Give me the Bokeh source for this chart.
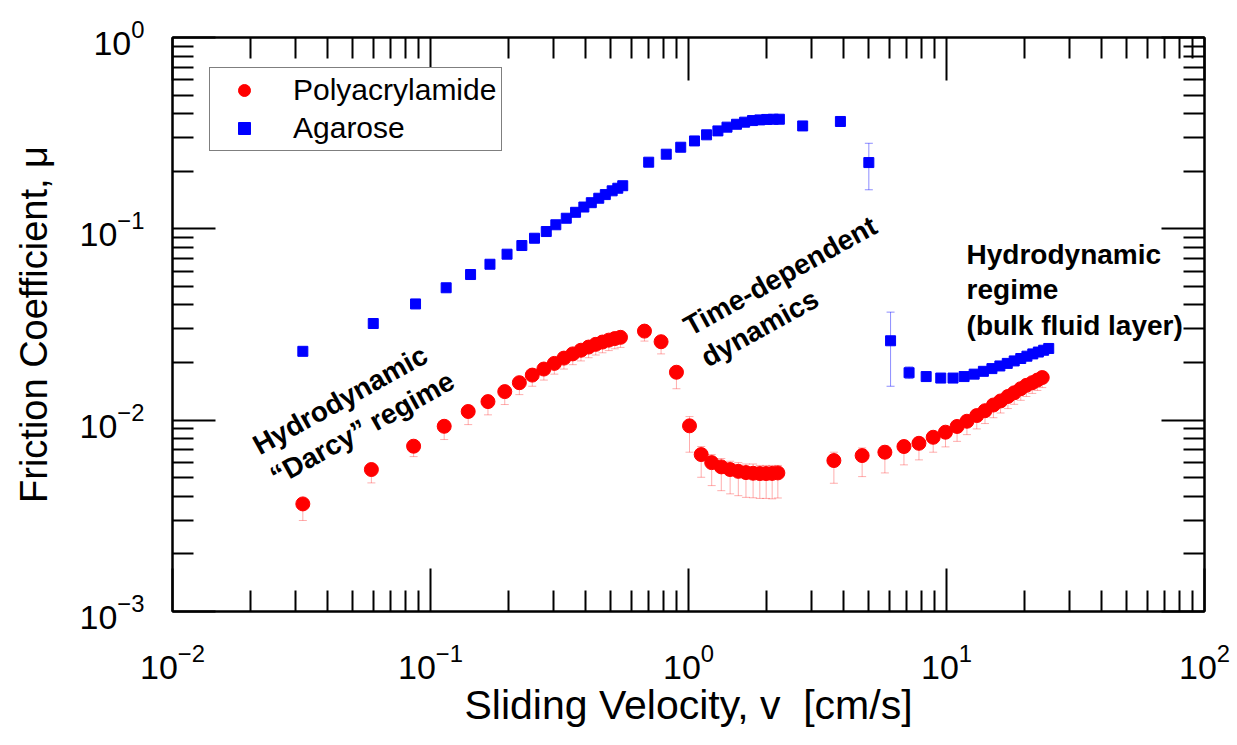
import math
from bokeh.plotting import figure
from bokeh.models import (ColumnDataSource, Whisker, TeeHead, LogAxis, FixedTicker,
                          Legend, LegendItem, Label, Range1d)
from bokeh.embed import file_html
from bokeh.resources import INLINE

# ---------------- data ----------------
red_v = [0.032, 0.059, 0.086, 0.113, 0.140, 0.167, 0.194, 0.221, 0.248, 0.275,
         0.302, 0.329, 0.356, 0.383, 0.410, 0.437, 0.464, 0.491, 0.518, 0.545,
         0.675, 0.783, 0.898, 1.009, 1.12, 1.23, 1.34, 1.45, 1.56, 1.67,
         1.78, 1.89, 2.00, 2.11, 2.22,
         3.66, 4.71, 5.77, 6.84, 7.82, 8.88, 9.91, 10.99, 12.0, 13.1,
         14.1, 15.2, 16.2, 17.3, 18.3, 19.4, 20.4, 21.5, 22.5, 23.5]
red_mu = [0.00365, 0.00552, 0.00731, 0.00929, 0.0111, 0.0125, 0.0141, 0.0157, 0.0172, 0.0185,
          0.0198, 0.0211, 0.0222, 0.0232, 0.0241, 0.0249, 0.0256, 0.0262, 0.0267, 0.0271,
          0.0292, 0.0257, 0.0178, 0.00934, 0.00661, 0.00600, 0.00570, 0.00552, 0.00540, 0.00532,
          0.00528, 0.00526, 0.00526, 0.00527, 0.00530,
          0.00615, 0.00653, 0.00680, 0.00728, 0.00757, 0.00814, 0.00865, 0.00927, 0.00987, 0.01057,
          0.0112, 0.0120, 0.0126, 0.0133, 0.0139, 0.0146, 0.0152, 0.0157, 0.0162, 0.0167]
red_hi = [0.0038, 0.0057, 0.0076, 0.0097, 0.0115, 0.0130, 0.0147, 0.0163, 0.0179, 0.0192,
          0.0206, 0.0219, 0.0231, 0.0241, 0.0251, 0.0259, 0.0266, 0.0272, 0.0277, 0.0282,
          0.0304, 0.0267, 0.0191, 0.01044, 0.00728, 0.00661, 0.00630, 0.00610, 0.00600, 0.00590,
          0.00590, 0.00580, 0.00580, 0.00580, 0.00580,
          0.00680, 0.00716, 0.00735, 0.00760, 0.00790, 0.00850, 0.00900, 0.00960, 0.0102, 0.0110,
          0.0116, 0.0125, 0.0131, 0.0138, 0.0144, 0.0152, 0.0158, 0.0163, 0.0168, 0.0173]
red_lo = [0.00299, 0.0047, 0.00645, 0.00792, 0.00948, 0.01066, 0.01207, 0.0136, 0.01504, 0.0162,
          0.0174, 0.0185, 0.0195, 0.0204, 0.0212, 0.0219, 0.0225, 0.0231, 0.0236, 0.0240,
          0.0259, 0.0222, 0.0146, 0.00680, 0.00503, 0.00455, 0.00428, 0.00412, 0.00403, 0.00395,
          0.00393, 0.00390, 0.00390, 0.00388, 0.00392,
          0.00468, 0.00507, 0.00530, 0.00584, 0.00620, 0.00680, 0.00725, 0.00775, 0.0084, 0.0090,
          0.0096, 0.0103, 0.0109, 0.0115, 0.0121, 0.0127, 0.0133, 0.0138, 0.0143, 0.0148]

blue_v = [0.032, 0.060, 0.0875, 0.115, 0.143, 0.170, 0.198, 0.226, 0.253, 0.281,
          0.306, 0.336, 0.365, 0.393, 0.420, 0.449, 0.476, 0.506, 0.532, 0.556,
          0.701, 0.82, 0.933, 1.055, 1.175, 1.30, 1.41, 1.535, 1.65, 1.77,
          1.89, 2.01, 2.13, 2.25,
          2.77, 3.88, 5.0,
          6.07, 7.16, 8.34, 9.5, 10.6, 11.7, 12.8, 13.9, 15.0,
          16.1, 17.2, 18.3, 19.4, 20.5, 21.6, 22.7, 23.8, 24.9]
blue_mu = [0.0229, 0.032, 0.0405, 0.0492, 0.0577, 0.0653, 0.0737, 0.0818, 0.0893, 0.0968,
           0.105, 0.1136, 0.122, 0.130, 0.137, 0.1445, 0.151, 0.158, 0.163, 0.168,
           0.223, 0.2455, 0.267, 0.288, 0.310, 0.325, 0.340, 0.352, 0.361, 0.368,
           0.371, 0.373, 0.374, 0.374,
           0.345, 0.364, 0.222,
           0.026, 0.0177, 0.0169, 0.0166, 0.0166, 0.0169, 0.0174, 0.0180, 0.0186,
           0.0192, 0.0198, 0.0204, 0.0210, 0.0216, 0.0222, 0.0227, 0.0232, 0.0237]
blue_hi = [0.0229, 0.032, 0.0405, 0.0492, 0.0577, 0.0653, 0.0737, 0.0818, 0.0893, 0.0968,
           0.105, 0.1136, 0.122, 0.130, 0.137, 0.1445, 0.151, 0.158, 0.163, 0.168,
           0.223, 0.2455, 0.267, 0.288, 0.310, 0.325, 0.340, 0.352, 0.361, 0.368,
           0.371, 0.373, 0.374, 0.374,
           0.345, 0.364, 0.280,
           0.0367, 0.0190, 0.0178, 0.0172, 0.0166, 0.0169, 0.0174, 0.0180, 0.0186,
           0.0192, 0.0198, 0.0204, 0.0210, 0.0216, 0.0222, 0.0227, 0.0232, 0.0237]
blue_lo = [0.0229, 0.032, 0.0405, 0.0492, 0.0577, 0.0653, 0.0737, 0.0818, 0.0893, 0.0968,
           0.105, 0.1136, 0.122, 0.130, 0.137, 0.1445, 0.151, 0.158, 0.163, 0.168,
           0.223, 0.2455, 0.267, 0.288, 0.310, 0.325, 0.340, 0.352, 0.361, 0.368,
           0.371, 0.373, 0.374, 0.374,
           0.345, 0.364, 0.160,
           0.01504, 0.0165, 0.0160, 0.0160, 0.0166, 0.0169, 0.0174, 0.0180, 0.0186,
           0.0192, 0.0198, 0.0204, 0.0210, 0.0216, 0.0222, 0.0227, 0.0232, 0.0237]

x_major = [1e-2, 1e-1, 1e0, 1e1, 1e2]
y_major = [1e-3, 1e-2, 1e-1, 1e0]
series_names = ["Polyacrylamide", "Agarose"]
x_title = "Sliding Velocity, v\u00a0\u00a0[cm/s]"
y_title = "Friction Coefficient, \u03bc"
notes = ["Hydrodynamic\n\u201cDarcy\u201d regime", "Time-dependent\ndynamics",
         "Hydrodynamic\nregime\n(bulk fluid layer)"]

FONT = "Liberation Sans"
RED = "#ff0000"
BLUE = "#0000ff"

p = figure(x_axis_type="log", y_axis_type="log",
           x_range=Range1d(1e-2, 1e2), y_range=Range1d(1e-3, 1e0),
           frame_width=1032, frame_height=574,
           min_border_left=172, min_border_top=37, min_border_right=31, min_border_bottom=132,
           output_backend="svg", toolbar_location=None)
p.background_fill_color = "white"
p.border_fill_color = "white"
p.xgrid.visible = False
p.ygrid.visible = False
p.outline_line_color = "black"
p.outline_line_width = 2

def minors(lo_exp, hi_exp):
    return [m * 10.0 ** e for e in range(lo_exp, hi_exp) for m in range(2, 10)]

xt = FixedTicker(ticks=x_major, minor_ticks=minors(-2, 2))
yt = FixedTicker(ticks=y_major, minor_ticks=minors(-3, 0))

def style_axis(ax, show_labels=True):
    ax.axis_line_width = 2
    ax.axis_line_color = "black"
    ax.major_tick_in = 43
    ax.major_tick_out = 0
    ax.minor_tick_in = 21
    ax.minor_tick_out = 0
    ax.major_tick_line_width = 2
    ax.minor_tick_line_width = 2
    ax.major_tick_line_color = "black"
    ax.minor_tick_line_color = "black"
    ax.major_label_text_font = FONT
    ax.major_label_text_color = "black"
    if show_labels:
        ax.major_label_text_font_size = "34px"
    else:
        ax.major_label_text_font_size = "0px"
        ax.major_label_text_alpha = 0
        ax.major_label_standoff = 0

p.xaxis.ticker = xt
p.yaxis.ticker = yt
style_axis(p.xaxis[0])
style_axis(p.yaxis[0])
p.xaxis.major_label_standoff = 32
p.yaxis.major_label_standoff = 28
p.xaxis.axis_label = x_title
p.yaxis.axis_label = y_title
p.xaxis.axis_label_text_font_size = "41px"
p.yaxis.axis_label_text_font_size = "38px"
for ax in (p.xaxis[0], p.yaxis[0]):
    ax.axis_label_text_font = FONT
    ax.axis_label_text_font_style = "normal"
    ax.axis_label_text_color = "black"
p.xaxis.axis_label_standoff = 0
p.yaxis.axis_label_standoff = 22

top_ax = LogAxis(ticker=xt)
style_axis(top_ax, show_labels=False)
p.add_layout(top_ax, "above")
right_ax = LogAxis(ticker=yt)
style_axis(right_ax, show_labels=False)
p.add_layout(right_ax, "right")

red_src = ColumnDataSource(dict(v=red_v, mu=red_mu, hi=red_hi, lo=red_lo))
blue_src = ColumnDataSource(dict(v=blue_v, mu=blue_mu, hi=blue_hi, lo=blue_lo))

for src, col, alpha in ((red_src, RED, 0.32), (blue_src, BLUE, 0.45)):
    w = Whisker(source=src, base="v", upper="hi", lower="lo", dimension="height",
                line_color=col, line_alpha=alpha, line_width=1, level="underlay",
                upper_head=TeeHead(size=8, line_color=col, line_alpha=alpha, line_width=1),
                lower_head=TeeHead(size=8, line_color=col, line_alpha=alpha, line_width=1))
    p.add_layout(w)

r_red = p.scatter("v", "mu", source=red_src, marker="circle", size=14,
                  fill_color=RED, line_color=RED)
r_blue = p.scatter("v", "mu", source=blue_src, marker="square", size=10,
                   fill_color=BLUE, line_color=BLUE)

legend = Legend(items=[LegendItem(label=series_names[0], renderers=[r_red]),
                       LegendItem(label=series_names[1], renderers=[r_blue])],
                location=(37, 460), label_text_font=FONT, label_text_font_size="30px",
                label_text_color="black", glyph_width=58, glyph_height=30,
                label_standoff=20, padding=5, spacing=4, margin=0,
                border_line_color="black", border_line_width=1.5,
                background_fill_color="white", background_fill_alpha=1)
p.add_layout(legend)

note_style = dict(text_font=FONT, text_font_size="28px", text_font_style="bold",
                  text_color="black", text_align="left", text_baseline="top",
                  text_line_height=1.15)
p.add_layout(Label(x=0.01954, y=0.00851, text=notes[0], angle=math.radians(29), **note_style))
p.add_layout(Label(x=0.914, y=0.0356, text=notes[1], angle=math.radians(29), **note_style))
p.add_layout(Label(x=11.96, y=0.0890, text=notes[2], angle=0, **note_style))

open("out.html", "w").write(file_html(p, INLINE))
